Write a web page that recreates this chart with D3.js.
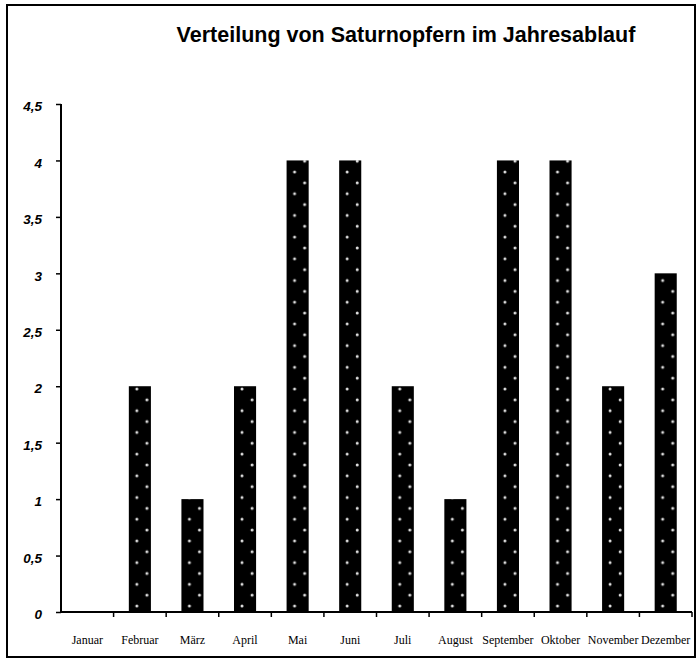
<!DOCTYPE html>
<html>
<head>
<meta charset="utf-8">
<script src="https://cdn.jsdelivr.net/npm/d3@7"></script>
<style>
  body { margin: 0; background: #fff; }
  .y-axis text { font-family: "Liberation Sans", Arial, sans-serif; font-weight: bold; font-style: italic; font-size: 13.5px; }
  .x-axis text { font-family: "Liberation Serif", "Times New Roman", serif; font-size: 12px; }
</style>
</head>
<body>
<div id="chart"></div>
<script>
// Saturnopfer pro Monat
let months = ["Januar", "Februar", "März", "April", "Mai", "Juni", "Juli", "August", "September", "Oktober", "November", "Dezember"];
let counts = [0, 2, 1, 2, 4, 4, 2, 1, 4, 4, 2, 3];
let yTicks = [0, 0.5, 1, 1.5, 2, 2.5, 3, 3.5, 4, 4.5];

let chartData = months.map((m, i) => ({ Month: m, Count: counts[i] }));

let totalWidth = 697, totalHeight = 659;
let margin = {top: 104, right: 5, bottom: 47, left: 61},
    width = 692 - margin.left,
    height = 612 - margin.top;

let svg = d3.select("#chart").append("svg")
    .attr("width", totalWidth)
    .attr("height", totalHeight);

// frame round the whole chart
svg.append("rect")
    .attr("x", 7).attr("y", 5)
    .attr("width", 688).attr("height", 652)
    .attr("fill", "none")
    .attr("stroke", "#000")
    .attr("stroke-width", 2);

svg.append("text")
    .attr("x", 406)
    .attr("y", 42)
    .attr("text-anchor", "middle")
    .style("font-family", "Liberation Sans, Arial, sans-serif")
    .style("font-weight", "bold")
    .style("font-size", "21.5px")
    .text("Verteilung von Saturnopfern im Jahresablauf");

let g = svg.append("g")
    .attr("transform", "translate(" + margin.left + "," + margin.top + ")");

let x = d3.scaleBand()
    .domain(months)
    .range([0, width])
    .paddingInner(0.58)
    .paddingOuter(0.29);

let y = d3.scaleLinear()
    .domain([0, 4.5])
    .range([height, 0]);

// dotted fill: two staggered columns of light dots
// (pattern is in the user space of g, so no margin offset here)
let band = d3.scaleBand().domain(months).range([0, width]);
let dotStep = 21.7;
let pattern = svg.append("defs").append("pattern")
    .attr("id", "dots")
    .attr("patternUnits", "userSpaceOnUse")
    .attr("x", x(months[0]))
    .attr("y", height - 6)
    .attr("width", band.step())
    .attr("height", dotStep);
pattern.append("rect")
    .attr("width", band.step()).attr("height", dotStep)
    .attr("fill", "#000");
[0, dotStep].forEach(cy => {
    pattern.append("circle")
        .attr("cx", 8).attr("cy", cy)
        .attr("r", 1.5).attr("fill", "#e0e0e0");
});
pattern.append("circle")
    .attr("cx", x.bandwidth() - 4).attr("cy", dotStep / 2)
    .attr("r", 1.5).attr("fill", "#e0e0e0");

g.selectAll(".bar")
    .data(chartData)
    .enter()
    .append("rect")
    .attr("class", "bar")
    .attr("x", d => x(d.Month))
    .attr("y", d => y(d.Count))
    .attr("width", x.bandwidth())
    .attr("height", d => height - y(d.Count) + 1)
    .attr("fill", "url(#dots)");

// AXES
let yAxis = d3.axisLeft(y)
    .tickValues(yTicks)
    .tickSize(5)
    .tickPadding(14)
    .tickFormat(d => String(d).replace(".", ","));

let yAxisGroup = g.append("g")
    .attr("class", "y-axis")
    .call(yAxis);
yAxisGroup.select(".domain").attr("d", "M0," + y(4.5) + "V" + height).attr("stroke-width", 2);
yAxisGroup.selectAll(".tick line").attr("stroke-width", 1.5);
yAxisGroup.selectAll("text").attr("fill", "#000").attr("dy", "0.5em");

let xAxisGroup = g.append("g")
    .attr("class", "x-axis")
    .attr("transform", "translate(0," + height + ")")
    .call(d3.axisBottom(band).tickSize(0).tickPadding(23));
xAxisGroup.select(".domain").attr("d", "M0,0H" + width).attr("stroke-width", 2);
xAxisGroup.selectAll("text").attr("fill", "#000");

// tick marks between months
g.append("g")
    .attr("class", "x-ticks")
    .selectAll("line")
    .data(months)
    .enter()
    .append("line")
    .attr("x1", d => band(d) + band.step())
    .attr("x2", d => band(d) + band.step())
    .attr("y1", height)
    .attr("y2", height + 5)
    .attr("stroke", "#000")
    .attr("stroke-width", 1.5);
</script>
</body>
</html>
